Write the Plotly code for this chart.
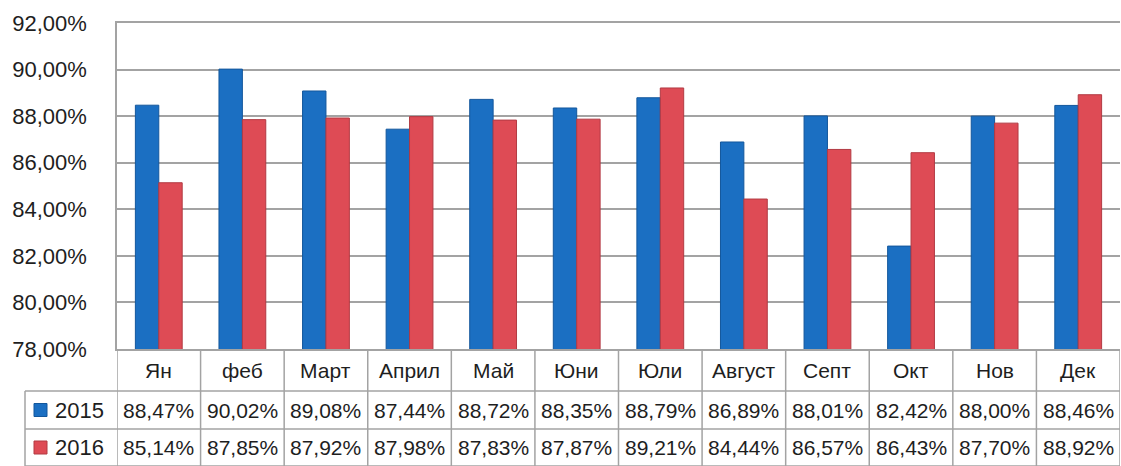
import plotly.graph_objects as go

months = ["Ян", "феб", "Март", "Април", "Май", "Юни", "Юли", "Август", "Септ", "Окт", "Нов", "Дек"]
series_names = ["2015", "2016"]
v2015 = [88.47, 90.02, 89.08, 87.44, 88.72, 88.35, 88.79, 86.89, 88.01, 82.42, 88.00, 88.46]
v2016 = [85.14, 87.85, 87.92, 87.98, 87.83, 87.87, 89.21, 84.44, 86.57, 86.43, 87.70, 88.92]
y_ticks = [78, 80, 82, 84, 86, 88, 90, 92]

colors = ["#1b6fc2", "#de4b55"]
edge_colors = ["#13579c", "#b23a43"]
FONT = "Liberation Sans"
GRID = "#a3a3a3"
TXT = "#1e1e1e"

W, H = 1121, 466
L, R, T, B = 117, 1, 23, 117
plot_h = H - T - B
plot_w = W - L - R

def py(pix):  # pixel y -> paper y
    return (H - B - pix) / plot_h

def px(pix):  # pixel x -> paper x
    return (pix - L) / plot_w

fig = go.Figure()
for name, vals, c, ec in zip(series_names, [v2015, v2016], colors, edge_colors):
    fig.add_trace(go.Bar(x=months, y=vals, name=name,
                         marker=dict(color=c, line=dict(color=ec, width=1)),
                         showlegend=False, hoverinfo="skip"))

def fmt(v):
    return f"{v:.2f}%".replace(".", ",")

shapes = []
annotations = []
line = dict(color=GRID, width=1.5)

y_hdr_bot = py(391)
y_r1_bot = py(429)
y_r2_bot = py(466)
x_leg = px(25)

for yy in [y_hdr_bot, y_r1_bot, y_r2_bot]:
    shapes.append(dict(type="line", xref="paper", yref="paper", x0=x_leg, x1=1, y0=yy, y1=yy, line=line))
n = len(months)
for i in range(n + 1):
    shapes.append(dict(type="line", xref="x", yref="paper", x0=i - 0.5, x1=i - 0.5,
                       y0=0, y1=y_r2_bot, line=line))
shapes.append(dict(type="line", xref="paper", yref="paper", x0=x_leg, x1=x_leg,
                   y0=y_hdr_bot, y1=y_r2_bot, line=line))

for m in months:
    annotations.append(dict(x=m, xref="x", y=(0 + y_hdr_bot) / 2, yref="paper", text=m,
                            showarrow=False, font=dict(family=FONT, size=21, color=TXT),
                            xanchor="center", yanchor="middle"))
rows = [(v2015, (y_hdr_bot + y_r1_bot) / 2), (v2016, (y_r1_bot + y_r2_bot) / 2)]
for k, (vals, yc) in enumerate(rows):
    for m, v in zip(months, vals):
        annotations.append(dict(x=m, xref="x", y=yc, yref="paper", text=fmt(v),
                                showarrow=False, font=dict(family=FONT, size=21, color=TXT),
                                xanchor="center", yanchor="middle"))
    shapes.append(dict(type="rect", xref="paper", yref="paper",
                       x0=px(34), x1=px(47), y0=yc - 6.5 / plot_h, y1=yc + 6.5 / plot_h,
                       fillcolor=colors[k], line=dict(color=edge_colors[k], width=1)))
    annotations.append(dict(x=px(53), xref="paper", y=yc, yref="paper", text=series_names[k],
                            showarrow=False, font=dict(family=FONT, size=22, color=TXT),
                            xanchor="left", yanchor="middle"))

fig.update_layout(
    width=W, height=H,
    margin=dict(l=L, r=R, t=T, b=B),
    paper_bgcolor="white", plot_bgcolor="white",
    separators=", ",
    barmode="group", bargap=0.44, bargroupgap=0,
    shapes=shapes, annotations=annotations,
    xaxis=dict(showticklabels=False, ticks="", showgrid=False, showline=True, mirror=True,
               linecolor=GRID, linewidth=1.5, range=[-0.5, n - 0.5]),
    yaxis=dict(range=[78, 92], tickvals=y_ticks,
               ticktext=[f"{t:.2f}%".replace(".", ",") for t in y_ticks],
               showgrid=True, gridcolor=GRID, gridwidth=1.5,
               showline=True, linecolor=GRID, linewidth=1.5, zeroline=False,
               ticks="", ticklabelstandoff=24,
               tickfont=dict(family=FONT, size=22, color=TXT)),
)

fig.write_html("out.html", config={"displayModeBar": False},
               post_script="document.body.style.margin='0';document.body.style.overflow='hidden';")
